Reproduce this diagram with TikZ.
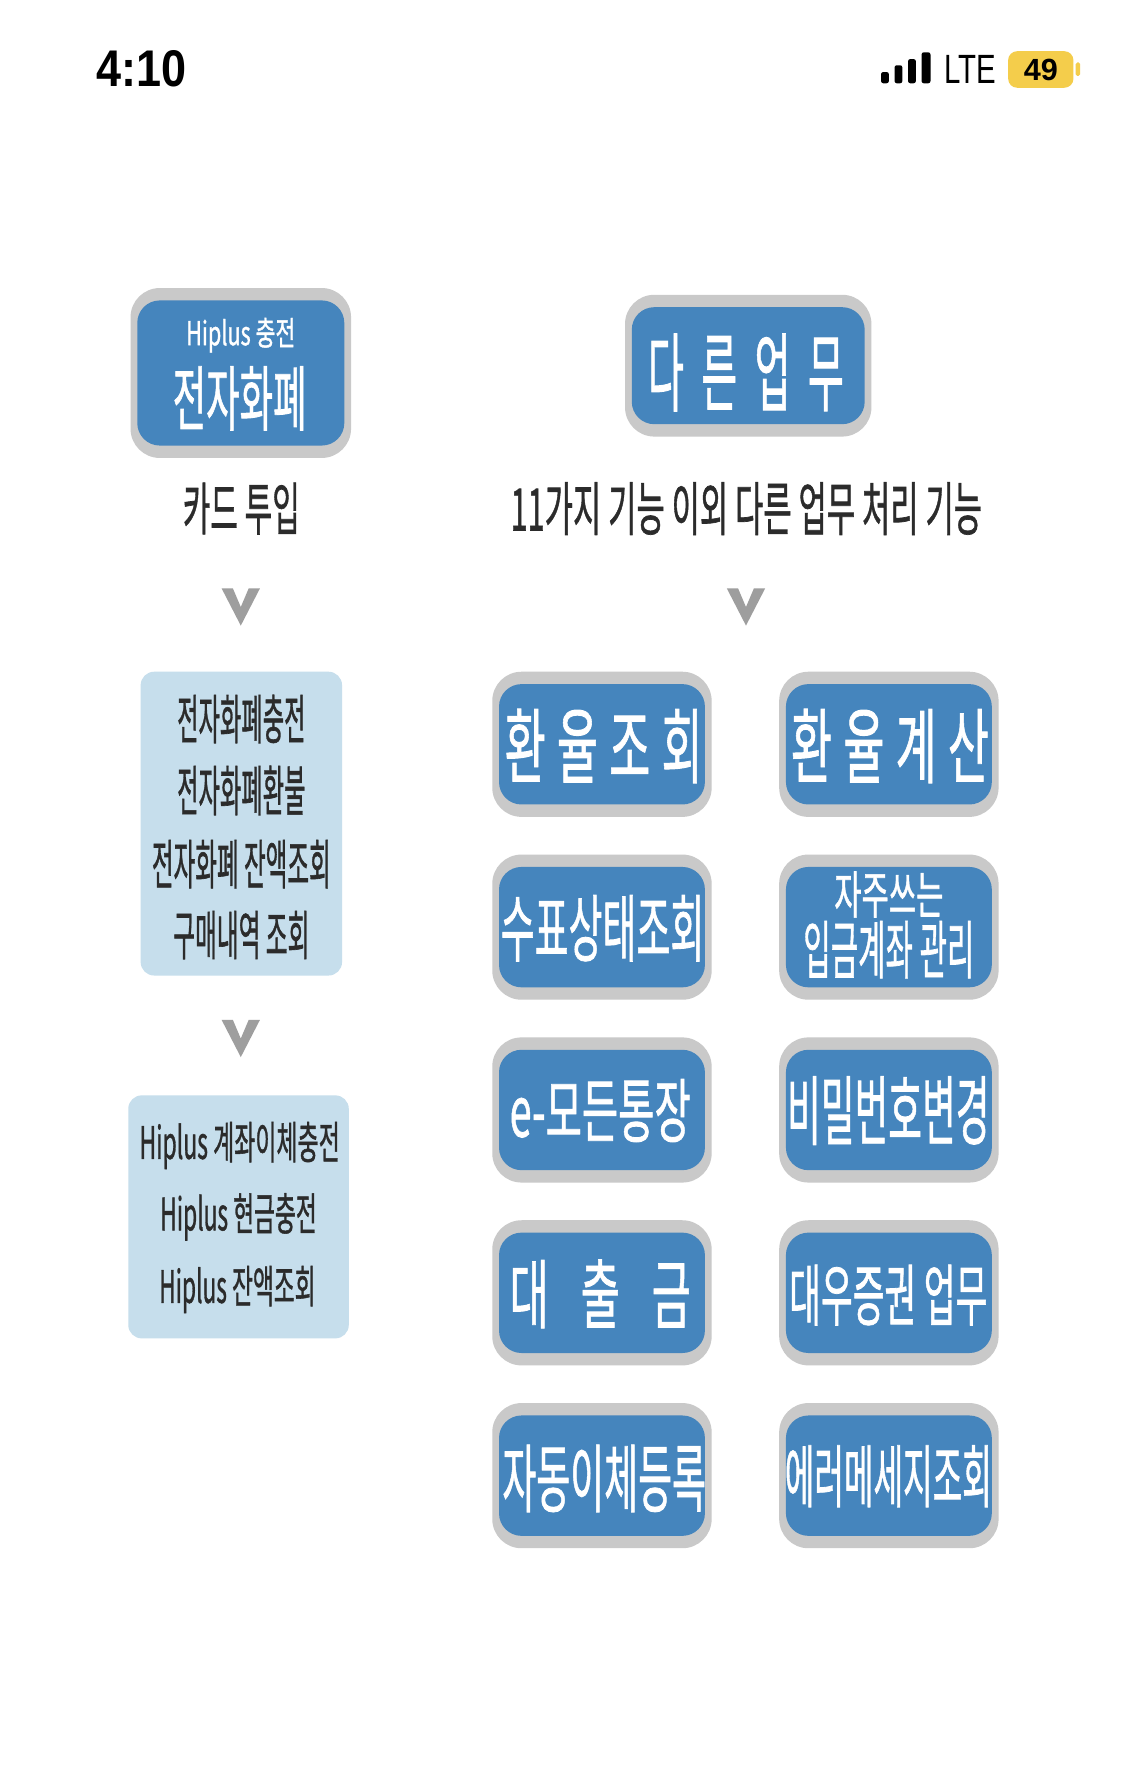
\documentclass[tikz,border=0pt]{standalone}
\usepackage{fontspec}
\setmainfont{Liberation Sans}
\newfontfamily\kr[FakeBold=1.2]{Noto Sans CJK KR}
\definecolor{btnblue}{HTML}{4585BD}
\definecolor{btngray}{HTML}{C9C9C9}
\definecolor{lightbox}{HTML}{C6DEEC}
\definecolor{chevgray}{HTML}{9E9E9E}
\definecolor{darktext}{HTML}{2B2B2B}
\definecolor{batt}{HTML}{F4CD4B}
\newcommand{\fitt}[3]{\resizebox*{#1pt}{#2pt}{\fontsize{40}{48}\selectfont\kr #3}}
% gray-framed blue button: name, x, y, outer width, outer height
\newcommand{\btnbox}[5]{%
  \fill[btngray, rounded corners=26pt] ({#2-#4/2},{#3-#5/2}) rectangle ({#2+#4/2},{#3+#5/2});
  \node[btnin, minimum width={#4-12}, minimum height={#5-22}] (#1) at (#2,#3) {};}
\tikzset{
  btnin/.style={fill=btnblue, rounded corners=20pt, inner sep=0pt},
  lbox/.style={fill=lightbox, rounded corners=12pt, inner sep=0pt},
  dtext/.style={inner sep=0pt, text=darktext},
  wtext/.style={inner sep=0pt, text=white},
  chevron/.pic={\fill[chevgray] (-17,-16.5) -- (-7,-16.5) -- (0,0) -- (7,-16.5) -- (17,-16.5) -- (0,16.5) -- cycle;}
}
\begin{document}
\begin{tikzpicture}[x=1pt,y=-1pt]
\fill[white] (0,0) rectangle (1000,1582);
\useasboundingbox (0,0) rectangle (1000,1582);

% status bar
\node[inner sep=0pt] (time) at (126,61.5) {\resizebox{80pt}{32pt}{\bfseries 4:10}};
\fill[black, rounded corners=2pt] (783,64) rectangle (790,74);
\fill[black, rounded corners=2pt] (795,58) rectangle (802,74);
\fill[black, rounded corners=2pt] (807,52.5) rectangle (814,74);
\fill[black, rounded corners=2pt] (819,46.5) rectangle (827,74);
\node[inner sep=0pt] (lte) at (862,61.5) {\resizebox{46pt}{25pt}{LTE}};
\fill[batt, rounded corners=8pt] (896,45.5) rectangle (954,78);
\fill[batt, rounded corners=1.5pt] (956,55.5) rectangle (960,67.5);
\node[inner sep=0pt] (batnum) at (925,62) {\resizebox{!}{19pt}{\bfseries 49}};

% left column
\btnbox{ecash}{214}{331.5}{196}{151}
\node[wtext] (ecashA) at (214,298) {\fitt{97}{31}{Hiplus 충전}};
\node[wtext] (ecashB) at (213,354) {\fitt{119}{57}{전자화폐}};
\node[dtext] (card) at (214.5,452) {\fitt{104}{46}{카드 투입}};
\pic at (214,539.5) {chevron};

\node[lbox, minimum width=179pt, minimum height=270pt] (boxB) at (214.5,732) {};
\node[dtext] (b1) at (214.5,639) {\fitt{114}{43}{전자화폐충전}};
\node[dtext] (b2) at (214.5,702.5) {\fitt{114}{44}{전자화폐환불}};
\node[dtext] (b3) at (214.5,768) {\fitt{159}{43}{전자화폐 잔액조회}};
\node[dtext] (b4) at (214.5,831) {\fitt{121}{43}{구매내역 조회}};
\pic at (214,923) {chevron};

\node[lbox, minimum width=196pt, minimum height=216pt] (boxC) at (212,1081.5) {};
\node[dtext] (c1) at (213,1018) {\fitt{178}{42}{Hiplus 계좌이체충전}};
\node[dtext] (c2) at (212,1081.5) {\fitt{139}{42}{Hiplus 현금충전}};
\node[dtext] (c3) at (211,1146) {\fitt{139}{42}{Hiplus 잔액조회}};

% right column
\btnbox{other}{665}{325}{219}{126}
\node[wtext] (otherT) at (663,331) {\fitt{174}{69}{다\hspace{0.45em}른\hspace{0.45em}업\hspace{0.45em}무}};
\node[dtext] (desc) at (663.3,452) {\fitt{419}{47}{11가지 기능 이외 다른 업무 처리 기능}};
\pic at (663,539.5) {chevron};

\btnbox{r1a}{535}{661.5}{195}{129}
\node[wtext] (t1a) at (536.5,663) {\fitt{176}{66}{환\hspace{0.25em}율\hspace{0.25em}조\hspace{0.25em}회}};
\btnbox{r1b}{790}{661.5}{195}{129}
\node[wtext] (t1b) at (791,663) {\fitt{176}{66}{환\hspace{0.25em}율\hspace{0.25em}계\hspace{0.25em}산}};

\btnbox{r2a}{535}{824}{195}{129}
\node[wtext] (t2a) at (535.5,825) {\fitt{181}{59}{수표상태조회}};
\btnbox{r2b}{790}{824}{195}{129}
\node[wtext] (t2b1) at (790,795) {\fitt{97}{41}{자주쓰는}};
\node[wtext] (t2b2) at (790,844) {\fitt{152}{51}{입금계좌 관리}};

\btnbox{r3a}{535}{986.5}{195}{129}
\node[wtext] (t3a) at (533.5,987) {\fitt{161}{56}{e-모든통장}};
\btnbox{r3b}{790}{986.5}{195}{129}
\node[wtext] (t3b) at (789.5,987) {\fitt{180}{61}{비밀번호변경}};

\btnbox{r4a}{535}{1149}{195}{129}
\node[wtext] (t4a) at (533.5,1150) {\fitt{161}{61}{대\hspace{0.75em}출\hspace{0.75em}금}};
\btnbox{r4b}{790}{1149}{195}{129}
\node[wtext] (t4b) at (789.5,1151) {\fitt{176}{54}{대우증권 업무}};

\btnbox{r5a}{535}{1311.5}{195}{129}
\node[wtext] (t5a) at (537,1314) {\fitt{181}{60}{자동이체등록}};
\btnbox{r5b}{790}{1311.5}{195}{129}
\node[wtext] (t5b) at (789.5,1312) {\fitt{184}{55}{에러메세지조회}};
\end{tikzpicture}
\end{document}
